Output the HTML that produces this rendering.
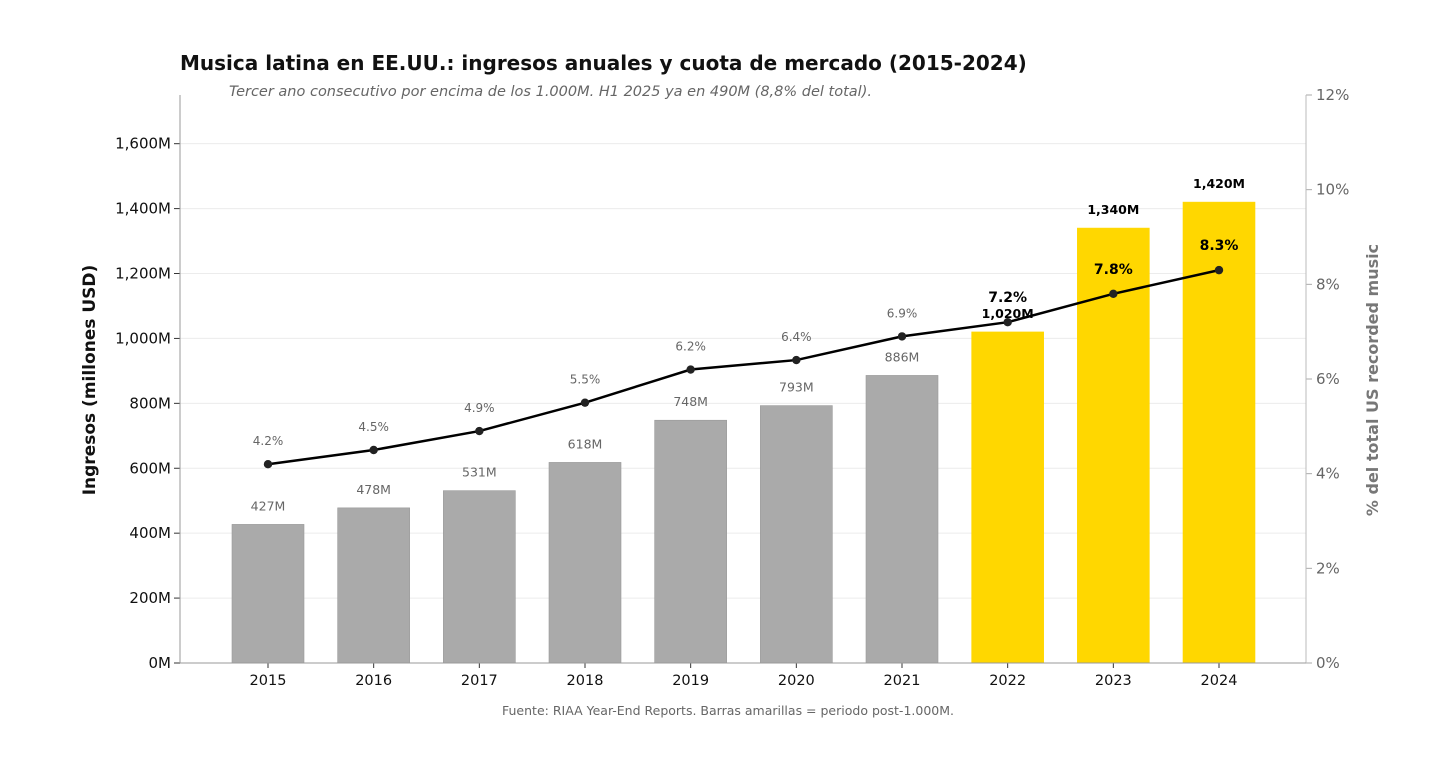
<!DOCTYPE html>
<html><head><meta charset="utf-8"><style>
body{margin:0;background:#fff;font-family:"DejaVu Sans","Liberation Sans",sans-serif}
svg text{font-family:"DejaVu Sans","Liberation Sans",sans-serif}
</style></head><body>
<svg id="c" width="1456" height="778" xmlns="http://www.w3.org/2000/svg">
<text x="180" y="70" font-size="20" font-weight="bold" fill="#111">Musica latina en EE.UU.: ingresos anuales y cuota de mercado (2015-2024)</text>
<text x="229" y="96" font-size="14.5" font-style="italic" fill="#666">Tercer ano consecutivo por encima de los 1.000M. H1 2025 ya en 490M (8,8% del total).</text>
<text x="728" y="715" font-size="12.5" fill="#666" text-anchor="middle">Fuente: RIAA Year-End Reports. Barras amarillas = periodo post-1.000M.</text>
<text transform="translate(95,380) rotate(-90)" font-size="17" font-weight="bold" fill="#111" text-anchor="middle">Ingresos (millones USD)</text>
<text transform="translate(1378,380) rotate(-90)" font-size="16" font-weight="bold" fill="#777" text-anchor="middle">% del total US recorded music</text>
<g id="g"></g>
</svg>
<script>
const years=["2015","2016","2017","2018","2019","2020","2021","2022","2023","2024"];
const revenue=[427,478,531,618,748,793,886,1020,1340,1420];
const share=[4.2,4.5,4.9,5.5,6.2,6.4,6.9,7.2,7.8,8.3];
const leftTicks=[0,200,400,600,800,1000,1200,1400,1600];
const rightTicks=[0,2,4,6,8,10,12];
const x0=180,x1=1306,yb=663,yt=95;
const yL=v=>yb-v/1750*(yb-yt);
const yR=v=>yb-v/12*(yb-yt);
const xC=i=>268+i*(1219-268)/9;
const g=document.getElementById('g');
const NS='http://www.w3.org/2000/svg';
function mk(t,a,p){const e=document.createElementNS(NS,t);for(const k in a)e.setAttribute(k,a[k]);(p||g).appendChild(e);return e;}
leftTicks.forEach(v=>{
 const l=mk('line',{x1:x0,x2:x1,y1:yL(v),y2:yL(v),stroke:'#ececec','stroke-width':1});
 
 
 mk('line',{x1:x0-6,x2:x0,y1:yL(v),y2:yL(v),stroke:'#333'});
 const t=mk('text',{x:x0-9,y:yL(v)+5,'font-size':15,fill:'#111','text-anchor':'end'});
 t.textContent=(v===0?'0':v.toLocaleString('en-US'))+'M';
 
 
});
rightTicks.forEach(v=>{
 mk('line',{x1:x1,x2:x1+6,y1:yR(v),y2:yR(v),stroke:'#aaa'});
 const t=mk('text',{x:x1+10,y:yR(v)+5,'font-size':15,fill:'#666'});
 t.textContent=v+'%';
 
 
});
years.forEach((y,i)=>{
 const hi=revenue[i]>=1000;
 const b=mk('rect',{x:xC(i)-36,y:yL(revenue[i]),width:72,height:yb-yL(revenue[i]),fill:hi?'#FFD700':'#aaaaaa',stroke:hi?'#FFD700':'#999','stroke-width':0.6});
 
 
 const bl=mk('text',{x:xC(i),y:yL(revenue[i])-14,'font-size':12.5,'font-weight':hi?'bold':'normal',fill:hi?'#000':'#666','text-anchor':'middle'});
 bl.textContent=revenue[i].toLocaleString('en-US')+'M';
 
 
 mk('line',{x1:xC(i),x2:xC(i),y1:yb,y2:yb+5,stroke:'#333'});
 const xl=mk('text',{x:xC(i),y:yb+22,'font-size':14.5,fill:'#111','text-anchor':'middle'});
 xl.textContent=y;
 
 
});
mk('line',{x1:x0,x2:x0,y1:yt,y2:yb,stroke:'#999'});
mk('line',{x1:x1,x2:x1,y1:yt,y2:yb,stroke:'#bbb'});
mk('line',{x1:x0,x2:x1,y1:yb,y2:yb,stroke:'#999'});
const ln=mk('polyline',{points:share.map((v,i)=>xC(i)+','+yR(v)).join(' '),fill:'none',stroke:'#000','stroke-width':2.5});


share.forEach((v,i)=>{
 const hi=revenue[i]>=1000;
 const c=mk('circle',{cx:xC(i),cy:yR(v),r:4.2,fill:'#222'});
 
 
 const t=mk('text',{x:xC(i),y:yR(v)-(hi?20:19),'font-size':hi?14:12,'font-weight':hi?'bold':'normal',fill:hi?'#000':'#666','text-anchor':'middle'});
 t.textContent=v.toFixed(1)+'%';
 
 
});
</script>
</body></html>
